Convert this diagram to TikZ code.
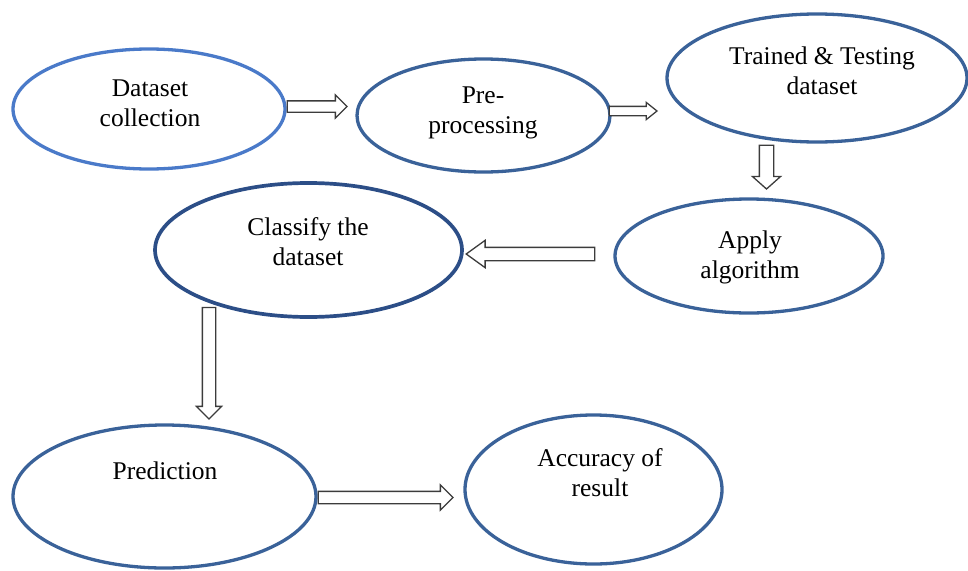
\documentclass[tikz,border=0pt]{standalone}
\usepackage{fontspec}
\setmainfont{Liberation Serif}
\usetikzlibrary{shapes.geometric,shapes.arrows,calc}

\definecolor{lightrim}{HTML}{4A7AC9}
\definecolor{rim}{HTML}{3A6299}
\definecolor{darkrim}{HTML}{2C4E87}
\definecolor{arrowrim}{HTML}{3C3C3C}

\tikzset{
  stage/.style={ellipse, draw=rim, line width=3.3pt, fill=white, inner sep=0pt,
    minimum width=2*#1},
  label text/.style={anchor=base, align=center, inner sep=0pt,
    font=\fontsize{25.5}{30}\selectfont},
  hollow arrow/.style={single arrow, draw=arrowrim, fill=white, line width=1.3pt,
    inner xsep=0pt, anchor=tail, single arrow head indent=0pt},
}

% hollow block arrow: tail, tip, shaft width, head width, head length
\newcommand\blockarrow[5]{%
  \path let \p1=(#1), \p2=(#2),
            \n1={atan2(\y2-\y1,\x2-\x1)},
            \n2={veclen(\x2-\x1,\y2-\y1)} in
    node[hollow arrow, rotate=\n1, minimum height=\n2,
         inner ysep=#3/2, single arrow head extend={(#4-#3)/2},
         single arrow tip angle={2*atan((#4/2)/#5)}] at (\p1) {};
}

\begin{document}
\begin{tikzpicture}[x=1pt, y=-1pt]
  \useasboundingbox (0,0) rectangle (968,570);

  % process stages
  \node[stage=136,   minimum height=120, draw=lightrim] (dc) at (149,109) {};
  \node[stage=126.5, minimum height=113] (pp) at (483.5,115.5) {};
  \node[stage=150,   minimum height=128] (tt) at (817,78) {};
  \node[stage=134,   minimum height=114] (aa) at (749,256) {};
  \node[stage=153.5, minimum height=134, draw=darkrim, line width=3.7pt] (cd) at (308.5,250) {};
  \node[stage=151.5, minimum height=143] (pr) at (164.5,496.5) {};
  \node[stage=128.5, minimum height=149] (ar) at (593.5,489.5) {};

  % stage captions (anchored on the baseline of the last line)
  \node[label text] (dc-t) at (150,126) {Dataset\\collection};
  \node[label text] (pp-t) at (483,133) {Pre-\\processing};
  \node[label text] (tt-t) at (822,94)  {Trained \& Testing\\dataset};
  \node[label text] (aa-t) at (750,278) {Apply\\algorithm};
  \node[label text] (cd-t) at (308,265) {Classify the\\dataset};
  \node[label text] (pr-t) at (165,479) {Prediction};
  \node[label text] (ar-t) at (600,496) {Accuracy of\\result};

  % arrow end points
  \coordinate (a1s) at ($(dc.east)+(0,-2.5)$);
  \coordinate (a1e) at ($(pp.west)+(-9,-9)$);
  \coordinate (a2s) at ($(pp.east)+(-3,-4.5)$);
  \coordinate (a2e) at ($(tt.west)+(-9,33)$);
  \coordinate (a3s) at ($(tt.south)+(-50.5,1)$);
  \coordinate (a3e) at ($(aa.north)+(17.5,-9)$);
  \coordinate (a4s) at ($(aa.west)+(-18,-2)$);
  \coordinate (a4e) at ($(cd.east)+(3,4)$);
  \coordinate (a5s) at ($(cd.south)+(-99.5,-12)$);
  \coordinate (a5e) at ($(pr.north)+(44.5,-5)$);
  \coordinate (a6s) at ($(pr.east)+(0,1)$);
  \coordinate (a6e) at ($(ar.west)+(-11,8)$);

  % flow arrows
  \blockarrow{a1s}{a1e}{10}{22}{11}
  \blockarrow{a2s}{a2e}{8}{16}{10}
  \blockarrow{a3s}{a3e}{13}{27}{12}
  \blockarrow{a4s}{a4e}{12}{26}{18}
  \blockarrow{a5s}{a5e}{12}{24}{12}
  \blockarrow{a6s}{a6e}{11}{24}{12}
\end{tikzpicture}
\end{document}
